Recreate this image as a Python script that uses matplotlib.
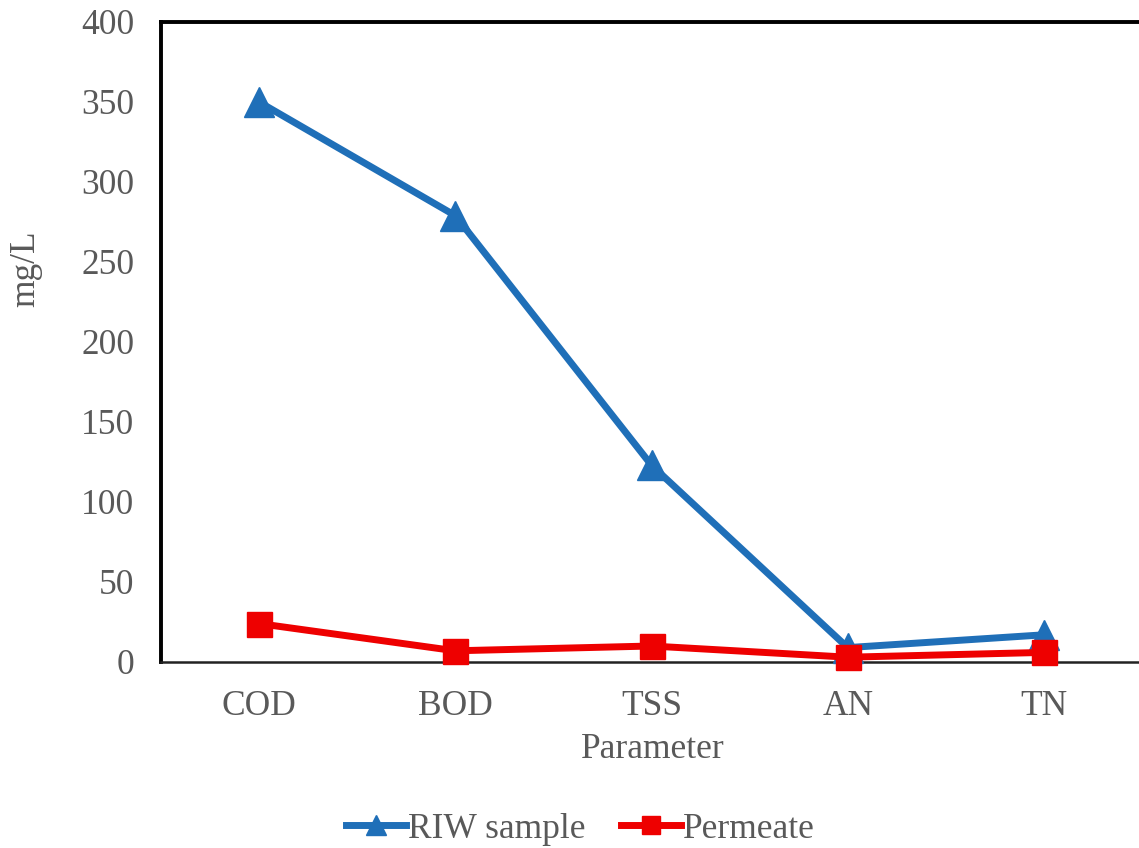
import matplotlib.pyplot as plt
from matplotlib.lines import Line2D

categories = ["COD", "BOD", "TSS", "AN", "TN"]
riw_sample = [350, 279, 123, 9, 17]
permeate = [24, 7, 10, 3, 6]
y_ticks = [0, 50, 100, 150, 200, 250, 300, 350, 400]

plt.rcParams['font.family'] = ['Liberation Serif', 'DejaVu Serif']

W, H = 1139, 848
FS = 25.5
GREY = "#595959"
fig = plt.figure(figsize=(W / 100, H / 100), dpi=100)
ax = fig.add_axes([161 / W, 1 - 662 / H, (1142 - 161) / W, (662 - 22) / H])

x = list(range(len(categories)))
blue = "#1f6fb8"
red = "#ee0000"
ax.plot(x, riw_sample, color=blue, lw=5, marker="^", ms=21,
        markerfacecolor=blue, markeredgecolor=blue, zorder=3, clip_on=False)
ax.plot(x, permeate, color=red, lw=5, marker="s", ms=18,
        markerfacecolor=red, markeredgecolor=red, zorder=4, clip_on=False)

ax.set_xlim(-0.5, len(categories) - 0.5)
ax.set_ylim(0, 400)
ax.set_yticks(y_ticks)
ax.set_xticks(x)
ax.set_xticklabels(categories)
ax.tick_params(axis="both", length=0, labelsize=FS, labelcolor=GREY)
ax.tick_params(axis="x", pad=20)
ax.tick_params(axis="y", pad=19)

for side in ("left", "top"):
    ax.spines[side].set_linewidth(2.8)
    ax.spines[side].set_color("black")
ax.spines["bottom"].set_linewidth(1.8)
ax.spines["bottom"].set_color("#222222")
ax.spines["right"].set_visible(False)

fig.text(653 / W, 1 - 750 / H, "Parameter", fontsize=FS, color=GREY,
         ha="center", va="center")
fig.text(26 / W, 1 - 269 / H, "mg/L", fontsize=FS, color=GREY,
         ha="center", va="center", rotation=90)

handles = [
    Line2D([], [], color=blue, lw=5, marker="^", ms=15, markerfacecolor=blue),
    Line2D([], [], color=red, lw=5, marker="s", ms=13, markerfacecolor=red),
]
fig.legend(handles, ["RIW sample", "Permeate"], loc="center",
           bbox_to_anchor=(580 / W, 1 - 829 / H), ncol=2, frameon=False,
           fontsize=FS, labelcolor=GREY, handlelength=1.7,
           handletextpad=0.05, columnspacing=1.0)

fig.savefig("out.png", dpi=100)
